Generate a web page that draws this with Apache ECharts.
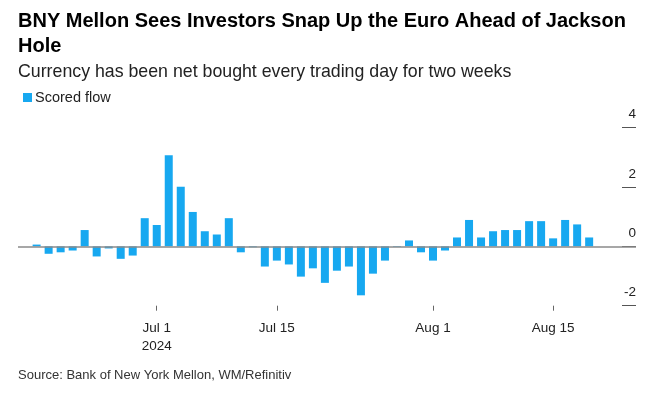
<!DOCTYPE html>
<html>
<head>
<meta charset="utf-8">
<script src="https://cdn.jsdelivr.net/npm/echarts@6/dist/echarts.min.js"></script>
<style>
  html, body { margin: 0; padding: 0; background: #fff; }
  #chart { width: 668px; height: 399px; }
</style>
</head>
<body>
<div id="chart"></div>
<script>
// ---- Data ----
const titleText = 'BNY Mellon Sees Investors Snap Up the Euro Ahead of Jackson\nHole';
const subtitleText = 'Currency has been net bought every trading day for two weeks';
const sourceText = 'Source: Bank of New York Mellon, WM/Refinitiv';
const seriesName = 'Scored flow';

const dates = [
  'Jun 17','Jun 18','Jun 19','Jun 20','Jun 21',
  'Jun 24','Jun 25','Jun 26','Jun 27','Jun 28',
  'Jul 1','Jul 2','Jul 3','Jul 4','Jul 5',
  'Jul 8','Jul 9','Jul 10','Jul 11','Jul 12',
  'Jul 15','Jul 16','Jul 17','Jul 18','Jul 19',
  'Jul 22','Jul 23','Jul 24','Jul 25','Jul 26',
  'Jul 29','Jul 30','Jul 31','Aug 1','Aug 2',
  'Aug 5','Aug 6','Aug 7','Aug 8','Aug 9',
  'Aug 12','Aug 13','Aug 14','Aug 15','Aug 16',
  'Aug 19','Aug 20'
];

const flows = [
  0.06, -0.25, -0.20, -0.14, 0.55,
  -0.34, -0.07, -0.42, -0.31, 0.95,
  0.72, 3.07, 2.01, 1.16, 0.51,
  0.40, 0.95, -0.20, -0.03, -0.68,
  -0.48, -0.61, -1.02, -0.74, -1.23,
  -0.82, -0.68, -1.65, -0.92, -0.48,
  -0.02, 0.20, -0.20, -0.48, -0.14,
  0.30, 0.89, 0.30, 0.51, 0.55,
  0.55, 0.85, 0.85, 0.27, 0.89,
  0.74, 0.30
];

const tickDates = ['Jul 1', 'Jul 15', 'Aug 1', 'Aug 15'];
const tickLabels = ['Jul 1\n2024', 'Jul 15', 'Aug 1', 'Aug 15'];
const yTicks = [-2, 0, 2, 4];

// ---- Build ----
const tickPositions = tickDates.map(d => dates.indexOf(d));
const barData = flows.map((v, i) => [i, v]);
const FONT = "'Liberation Sans', Arial, Helvetica, sans-serif";

const chart = echarts.init(document.getElementById('chart'), null, { renderer: 'canvas' });
chart.setOption({
  animation: false,
  backgroundColor: '#ffffff',
  textStyle: { fontFamily: FONT },
  title: [
    {
      text: titleText,
      left: 18, top: 9, padding: 0,
      textStyle: { fontFamily: "'Liberation Sans Narrow', 'Liberation Sans', Arial, sans-serif", fontSize: 20, fontWeight: 'bold', color: '#000', lineHeight: 25 }
    },
    {
      text: subtitleText,
      left: 18, top: 62, padding: 0,
      textStyle: { fontFamily: FONT, fontSize: 17.75, fontWeight: 'normal', color: '#222', lineHeight: 20 }
    },
    {
      text: sourceText,
      left: 18, top: 368, padding: 0,
      textStyle: { fontFamily: FONT, fontSize: 13, fontWeight: 'normal', color: '#333', lineHeight: 14 }
    }
  ],
  legend: {
    left: 18, top: 85,
    itemWidth: 9, itemHeight: 9,
    icon: 'rect',
    data: [seriesName],
    textStyle: { fontFamily: FONT, fontSize: 14.5, color: '#222', padding: [0, 0, 0, -2] }
  },
  grid: { left: 18, right: 32, top: 127.7, bottom: 93.3, containLabel: false },
  xAxis: {
    type: 'value',
    min: -1.55,
    max: 49.9,
    splitLine: { show: false },
    axisLine: { show: false, onZero: false },
    axisTick: {
      show: true, length: 5, customValues: tickPositions,
      lineStyle: { color: '#666', width: 1 }
    },
    axisLabel: {
      customValues: tickPositions,
      margin: 14,
      fontFamily: FONT, fontSize: 13.5, color: '#222', lineHeight: 18,
      formatter: (val) => {
        const k = tickPositions.indexOf(Math.round(val));
        return k >= 0 ? tickLabels[k] : '';
      }
    }
  },
  yAxis: {
    type: 'value',
    position: 'right',
    offset: -14,
    min: yTicks[0], max: yTicks[yTicks.length - 1], interval: 2,
    splitLine: { show: false },
    axisLine: { show: false, onZero: false },
    axisTick: { show: true, inside: false, length: 14, lineStyle: { color: '#555', width: 1 } },
    axisLabel: {
      inside: false, margin: 14, align: 'right', verticalAlign: 'bottom',
      padding: [0, 0, 6, 0],
      fontFamily: FONT, fontSize: 13.5, color: '#222'
    }
  },
  series: [{
    name: seriesName,
    type: 'bar',
    data: barData,
    barWidth: 8,
    itemStyle: { color: '#17a8f0' },
    markLine: {
      silent: true, symbol: 'none', label: { show: false },
      lineStyle: { color: '#8a8a8a', width: 1.5, type: 'solid' },
      data: [{ yAxis: 0 }]
    }
  }]
});
</script>
</body>
</html>
